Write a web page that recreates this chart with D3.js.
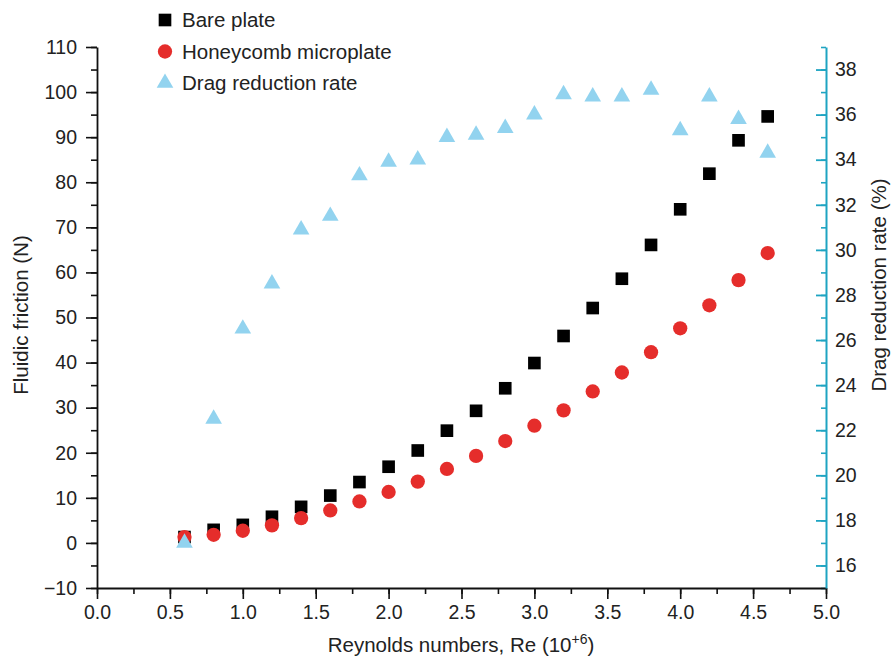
<!DOCTYPE html>
<html>
<head>
<meta charset="utf-8">
<style>
    body { margin: 0; background: #fff; }
    svg { display: block; font-family: 'Liberation Sans', Arial, sans-serif; }
    .tick text { font-size: 19.5px; fill: #222; }
    .axis-title { font-size: 20.5px; fill: #222; }
    .legend text { font-size: 20.5px; fill: #222; }
</style>
</head>
<body>
<svg width="891" height="657"></svg>
<script src="https://d3js.org/d3.v7.min.js"></script>
<script>
    // Reynolds number (10^6)
    let reynolds = [0.6, 0.8, 1.0, 1.2, 1.4, 1.6, 1.8, 2.0, 2.2, 2.4, 2.6, 2.8, 3.0, 3.2, 3.4, 3.6, 3.8, 4.0, 4.2, 4.4, 4.6];
    // fluidic friction (N)
    let barePlate = [1.3, 2.9, 4.0, 5.8, 8.0, 10.5, 13.5, 16.9, 20.5, 24.9, 29.3, 34.3, 39.9, 45.9, 52.1, 58.6, 66.1, 74.0, 81.9, 89.3, 94.6];
    let honeycomb = [1.3, 1.8, 2.7, 3.9, 5.5, 7.2, 9.2, 11.3, 13.6, 16.4, 19.3, 22.6, 26.0, 29.4, 33.6, 37.8, 42.3, 47.6, 52.7, 58.3, 64.3];
    // drag reduction rate (%)
    let dragRate = [17.0, 22.5, 26.5, 28.5, 30.9, 31.5, 33.3, 33.9, 34.0, 35.0, 35.1, 35.4, 36.0, 36.9, 36.8, 36.8, 37.1, 35.3, 36.8, 35.8, 34.3];

    let xTicks = [0, 0.5, 1, 1.5, 2, 2.5, 3, 3.5, 4, 4.5, 5];
    let yLeftTicks = [-10, 0, 10, 20, 30, 40, 50, 60, 70, 80, 90, 100, 110];
    let yRightTicks = [16, 18, 20, 22, 24, 26, 28, 30, 32, 34, 36, 38];

    let legendNames = ["Bare plate", "Honeycomb microplate", "Drag reduction rate"];

    let margin = { top: 47, right: 65, bottom: 69, left: 97 };
    let width = 891, height = 657;
    let teal = "#1ea4c2";

    let svg = d3.select("svg");

    let x = d3.scaleLinear().domain([0, 5]).range([margin.left, width - margin.right]);
    let yL = d3.scaleLinear().domain([-10, 110]).range([height - margin.bottom, margin.top]);
    let yR = d3.scaleLinear().domain([15, 39]).range([height - margin.bottom, margin.top]);

    // minor ticks
    let xMinor = d3.range(0, 5.001, 0.25);
    let yLMinor = d3.range(-10, 110.1, 5);
    let yRMinor = d3.range(15, 39.1, 1);

    svg.append("g")
        .attr("transform", `translate(0,${height - margin.bottom})`)
        .call(d3.axisBottom(x).tickValues(xMinor).tickSize(6).tickFormat(""))
        .call(g => g.select(".domain").remove())
        .call(g => g.selectAll("line").attr("stroke", "#111").attr("stroke-width", 1.6));

    svg.append("g")
        .attr("transform", `translate(${margin.left},0)`)
        .call(d3.axisLeft(yL).tickValues(yLMinor).tickSize(6).tickFormat(""))
        .call(g => g.select(".domain").remove())
        .call(g => g.selectAll("line").attr("stroke", "#111").attr("stroke-width", 1.6));

    svg.append("g")
        .attr("transform", `translate(${width - margin.right},0)`)
        .call(d3.axisRight(yR).tickValues(yRMinor).tickSize(-5).tickFormat(""))
        .call(g => g.select(".domain").remove())
        .call(g => g.selectAll("line").attr("stroke", teal).attr("stroke-width", 1.6));

    // major axes
    svg.append("g")
        .attr("class", "x axis")
        .attr("transform", `translate(0,${height - margin.bottom})`)
        .call(d3.axisBottom(x).tickValues(xTicks).tickSize(11).tickSizeOuter(0).tickPadding(6).tickFormat(d3.format(".1f")))
        .call(g => g.select(".domain").attr("stroke", "#111").attr("stroke-width", 1.8))
        .call(g => g.selectAll("line").attr("stroke", "#111").attr("stroke-width", 1.6));

    svg.append("g")
        .attr("class", "y axis")
        .attr("transform", `translate(${margin.left},0)`)
        .call(d3.axisLeft(yL).tickValues(yLeftTicks).tickSize(11).tickSizeOuter(0).tickPadding(9)
            .tickFormat(d => d < 0 ? "\u2212" + Math.abs(d) : d))
        .call(g => g.select(".domain").attr("stroke", "#111").attr("stroke-width", 1.8))
        .call(g => g.selectAll("line").attr("stroke", "#111").attr("stroke-width", 1.6));

    svg.append("g")
        .attr("class", "y2 axis")
        .attr("transform", `translate(${width - margin.right},0)`)
        .call(d3.axisRight(yR).tickValues(yRightTicks).tickSize(-10).tickSizeOuter(0).tickPadding(9))
        .call(g => g.select(".domain").attr("stroke", teal).attr("stroke-width", 2))
        .call(g => g.selectAll("line").attr("stroke", teal).attr("stroke-width", 1.8));

    // markers
    let square = d3.symbol(d3.symbolSquare, 160);
    let circle = d3.symbol(d3.symbolCircle, 160);
    let triangle = d3.symbol(d3.symbolTriangle, 120);

    svg.append("g").selectAll("path")
        .data(reynolds)
        .join("path")
        .attr("transform", (d, i) => `translate(${x(d)},${yL(barePlate[i])})`)
        .attr("d", square)
        .attr("fill", "#000");

    svg.append("g").selectAll("path")
        .data(reynolds)
        .join("path")
        .attr("transform", (d, i) => `translate(${x(d)},${yL(honeycomb[i])})`)
        .attr("d", circle)
        .attr("fill", "#e52d2b");

    svg.append("g").selectAll("path")
        .data(reynolds)
        .join("path")
        .attr("transform", (d, i) => `translate(${x(d)},${yR(dragRate[i])})`)
        .attr("d", triangle)
        .attr("fill", "#92d3ef");

    // legend
    let legendSymbols = [square, circle, triangle];
    let legendColors = ["#000", "#e52d2b", "#92d3ef"];
    let legend = svg.append("g").attr("class", "legend");
    legendNames.forEach((name, i) => {
        let ly = 20 + i * 31.5;
        legend.append("path")
            .attr("transform", `translate(165,${ly})`)
            .attr("d", legendSymbols[i])
            .attr("fill", legendColors[i]);
        legend.append("text")
            .attr("x", 182)
            .attr("y", ly + 7)
            .text(name);
    });

    // axis titles
    svg.append("text")
        .attr("class", "axis-title")
        .attr("transform", "translate(28,315) rotate(-90)")
        .attr("text-anchor", "middle")
        .text("Fluidic friction (N)");

    svg.append("text")
        .attr("class", "axis-title")
        .attr("font-size", "19px")
        .attr("transform", "translate(886,285) rotate(-90)")
        .attr("text-anchor", "middle")
        .text("Drag reduction rate (%)");

    let xt = svg.append("text")
        .attr("class", "axis-title")
        .attr("x", 461)
        .attr("y", 652)
        .attr("text-anchor", "middle");
    xt.append("tspan").text("Reynolds numbers, Re (10");
    xt.append("tspan").attr("dy", -8).attr("font-size", "14px").text("+6");
    xt.append("tspan").attr("dy", 8).text(")");
</script>
</body>
</html>
